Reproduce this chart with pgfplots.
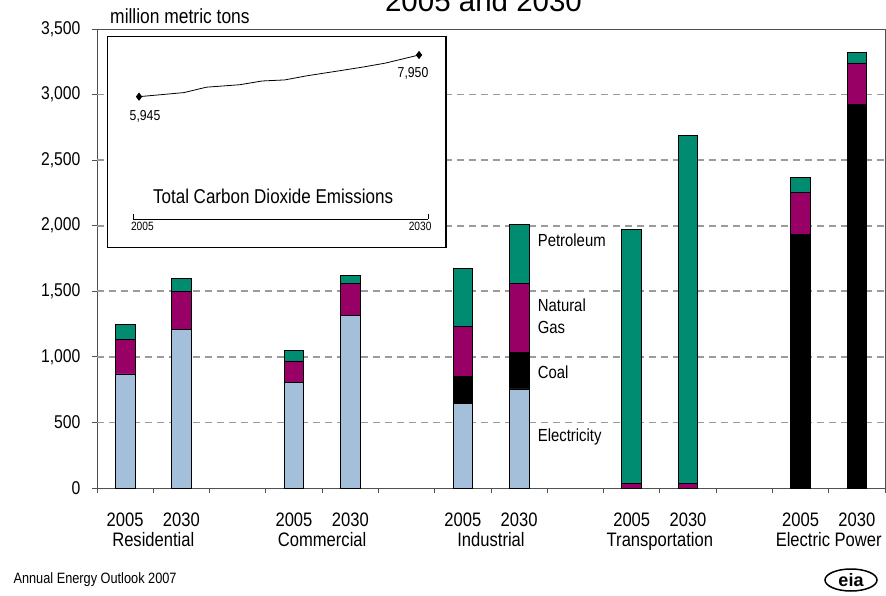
\documentclass[border=0pt]{standalone}
\usepackage{fontspec}
\setmainfont{Liberation Sans}
\newfontfamily\cond{Liberation Sans}[FakeStretch=0.85]
\usepackage{pgfplots}
\usepackage{pgfplotstable}
\pgfplotsset{compat=1.18}
\usetikzlibrary{shapes.geometric}

\definecolor{elec}{RGB}{163,191,217}
\definecolor{gas}{RGB}{153,0,102}
\definecolor{petro}{RGB}{0,140,112}
\definecolor{framec}{RGB}{80,80,80}
\definecolor{gridc}{RGB}{155,155,155}
\newcommand{\fs}[1]{\fontsize{#1}{#1}\selectfont}

% CO2 emissions by sector and fuel (million metric tons)
% x: 1/2 Residential, 4/5 Commercial, 7/8 Industrial, 10/11 Transportation, 13/14 Electric Power
\pgfplotstableread{
x  elec coal gas petro
1  870  0    262 115
2  1207 0    293 100
4  802  0    167 82
5  1318 0    244 56
7  642  212  380 440
8  755  277  526 455
10 0    0    38  1933
11 0    0    38  2652
13 0    1935 318 117
14 0    2925 316 80
}\sectors

% total CO2 emissions
\pgfplotstableread{
year total
2005 5945
2009 6140
2011 6400
2014 6520
2016 6700
2018 6750
2020 6950
2023 7200
2025 7370
2027 7560
2030 7950
}\totalco

\begin{document}
\begin{tikzpicture}[x=1pt,y=1pt]
\useasboundingbox (0,0) rectangle (886,595);

\node[font=\fs{29.5}, anchor=base] at (483.5,583) {2005 and 2030};

\begin{axis}[
  at={(97pt,107pt)}, anchor=south west,
  scale only axis, width=788pt, height=459pt,
  ybar stacked, bar width=0.35,
  xmin=0.5, xmax=14.5, ymin=0, ymax=3500,
  clip=false,
  axis line style={framec, line width=1pt},
  tick style={framec, line width=0.8pt},
  tick align=outside, major tick length=5pt,
  xtick pos=bottom, ytick pos=left,
  xtick={0.5,1.5,...,14.5}, xticklabels={},
  extra x ticks={1,2,4,5,7,8,10,11,13,14},
  extra x tick labels={2005,2030,2005,2030,2005,2030,2005,2030,2005,2030},
  extra x tick style={major tick length=0pt,
    xticklabel style={font=\cond\fs{19.5}, anchor=base, yshift=-38pt}},
  ytick={0,500,...,3500},
  yticklabel style={font=\cond\fs{18.5}, xshift=-8pt},
  extra y ticks={500,1000,...,3000},
  extra y tick labels={},
  extra y tick style={major tick length=0pt, grid=major,
    major grid style={gridc, line width=1.6pt, dash pattern=on 7pt off 5pt}},
  /pgf/number format/.cd, 1000 sep={,}, assume math mode=true,
]
\addplot[fill=elec, draw=black, line width=0.8pt] table[x=x,y=elec]{\sectors};
\addplot[fill=black, draw=black, line width=0.8pt] table[x=x,y=coal]{\sectors};
\addplot[fill=gas, draw=black, line width=0.8pt] table[x=x,y=gas]{\sectors};
\addplot[fill=petro, draw=black, line width=0.8pt] table[x=x,y=petro]{\sectors};

\node[font=\cond\fs{17.5}, anchor=west] at (axis cs:8.27,1890) {Petroleum};
\node[font=\cond\fontsize{17.5}{21.7}\selectfont, anchor=west, align=left] at (axis cs:8.27,1311) {Natural\\Gas};
\node[font=\cond\fs{17.5}, anchor=west] at (axis cs:8.27,879) {Coal};
\node[font=\cond\fs{17.5}, anchor=west] at (axis cs:8.27,386) {Electricity};

\node[font=\cond\fs{19.5}, anchor=base, yshift=-58pt] at (axis cs:1.5,0) {Residential};
\node[font=\cond\fs{19.5}, anchor=base, yshift=-58pt] at (axis cs:4.5,0) {Commercial};
\node[font=\cond\fs{19.5}, anchor=base, yshift=-58pt] at (axis cs:7.5,0) {Industrial};
\node[font=\cond\fs{19.5}, anchor=base, yshift=-58pt] at (axis cs:10.5,0) {Transportation};
\node[font=\cond\fs{19.5}, anchor=base, yshift=-58pt] at (axis cs:13.5,0) {Electric Power};
\end{axis}

% inset panel
\draw[black, line width=1.2pt, fill=white] (107.3,347.7) rectangle (446,558.3);
\begin{axis}[
  at={(133pt,376pt)}, anchor=south west,
  scale only axis, width=295pt, height=182.3pt,
  xmin=2004.46, xmax=2030.8, ymin=60, ymax=8830,
  clip=false,
  axis x line=bottom, axis y line=none,
  x axis line style={-, black, line width=0.8pt},
  tick style={black, line width=0.8pt},
  tick align=inside, major tick length=5pt,
  xtick={2004.46,2030.8}, xticklabels={},
  extra x ticks={2005.3,2030.1},
  extra x tick labels={2005,2030},
  extra x tick style={major tick length=0pt,
    xticklabel style={font=\cond\fs{12}}},
  ytick=\empty,
]
\addplot[black, line width=0.8pt, mark=diamond*, mark size=3.5pt, mark indices={1,11}] table[x=year,y=total]{\totalco};
\node[font=\cond\fs{14.4}, xshift=6pt, yshift=-20pt] at (axis cs:2005,5945) {5,945};
\node[font=\cond\fs{14.4}, xshift=-6pt, yshift=-18pt] at (axis cs:2030,7950) {7,950};
\node[font=\cond\fs{20}] at (rel axis cs:0.475,0.126) {Total Carbon Dioxide Emissions};
\end{axis}

\node[font=\cond\fs{20.5}, anchor=base west] at (106.7,571) {million metric tons};
\node[font=\cond\fs{15}, anchor=base west] at (10,12) {Annual Energy Outlook 2007};
\node[draw, ellipse, line width=1.5pt, inner sep=0pt, minimum width=52pt, minimum height=22pt, font=\bfseries\fs{18}] at (851,15) {eia};
\end{tikzpicture}
\end{document}
